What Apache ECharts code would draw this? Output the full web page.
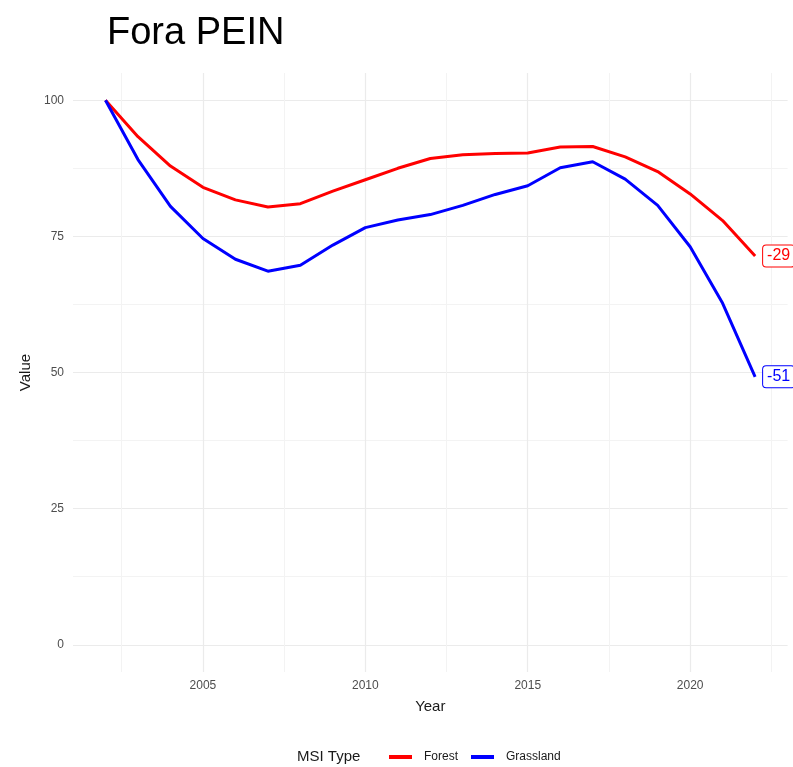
<!DOCTYPE html>
<html><head><meta charset="utf-8">
<script src="https://cdn.jsdelivr.net/npm/echarts@6/dist/echarts.min.js"></script>
<style>html,body{margin:0;padding:0;background:#fff}#c{width:793px;height:767px}</style>
</head><body><div id="c"></div>
<script>
const years = [2002,2003,2004,2005,2006,2007,2008,2009,2010,2011,2012,2013,2014,2015,2016,2017,2018,2019,2020,2021,2022];
const forest = [100,93.3,87.9,84.0,81.7,80.4,81.0,83.3,85.4,87.5,89.3,90.0,90.2,90.3,91.4,91.5,89.6,86.9,82.8,77.9,71.4];
const grassland = [100,89.1,80.5,74.6,70.8,68.6,69.7,73.4,76.6,78.0,79.0,80.7,82.7,84.3,87.6,88.7,85.5,80.7,73.1,62.7,49.2];
const forestLabel = '-29';
const grassLabel = '-51';
const xMajor = [2005,2010,2015,2020];
const xMinor = [2002.5,2007.5,2012.5,2017.5,2022.5];
const yMajor = [0,25,50,75,100];
const yMinor = [12.5,37.5,62.5,87.5];

const font = 'Liberation Sans, Arial, sans-serif';
const chart = echarts.init(document.getElementById('c'), null, {renderer:'canvas'});
const grid = {left:73, right:5.4, top:73, bottom:95};
const endLabel = (color, text) => ({
  show:true, formatter:text, distance:8, color:color, fontSize:16, fontFamily:font,
  backgroundColor:'#fff', borderColor:color, borderWidth:1, borderRadius:3, padding:[3,4,2,4]
});
chart.setOption({
  animation:false,
  title:[{text:'Fora PEIN', left:102, top:10, textStyle:{fontFamily:font, fontSize:38, fontWeight:'normal', color:'#000'}}],
  graphic:[{type:'text', left:297, top:749, style:{text:'MSI Type', font:'15px ' + font, fill:'#1a1a1a'}}],
  legend:{left:384, top:746, itemWidth:23, itemHeight:4, itemGap:13, icon:'rect',
    textStyle:{fontFamily:font, fontSize:12, color:'#1a1a1a', padding:[0,0,0,7]},
    data:['Forest','Grassland']},
  grid:grid,
  xAxis:[{type:'value', min:2001, max:2023, name:'Year', nameLocation:'middle', nameGap:27,
    nameTextStyle:{fontFamily:font, fontSize:15, color:'#1a1a1a'},
    axisLine:{show:false}, axisTick:{show:false, customValues:xMajor},
    axisLabel:{customValues:xMajor, color:'#4d4d4d', fontFamily:font, fontSize:12, margin:8, formatter:v=>String(v)},
    splitLine:{show:true, lineStyle:{color:'#ebebeb', width:1.2}}},
   {type:'value', min:2001, max:2023, show:true, position:'bottom',
    axisLine:{show:false}, axisTick:{show:false, customValues:xMinor},
    axisLabel:{show:false, customValues:xMinor},
    splitLine:{show:true, lineStyle:{color:'#f3f3f3', width:1}}}],
  yAxis:[{type:'value', min:-5, max:105, name:'Value', nameLocation:'middle', nameGap:38,
    nameTextStyle:{fontFamily:font, fontSize:15, color:'#1a1a1a'},
    axisLine:{show:false}, axisTick:{show:false, customValues:yMajor},
    axisLabel:{customValues:yMajor, color:'#4d4d4d', fontFamily:font, fontSize:12, margin:9},
    splitLine:{show:true, lineStyle:{color:'#ebebeb', width:1.2}}},
   {type:'value', min:-5, max:105, position:'left',
    axisLine:{show:false}, axisTick:{show:false, customValues:yMinor},
    axisLabel:{show:false, customValues:yMinor},
    splitLine:{show:true, lineStyle:{color:'#f3f3f3', width:1}}}],
  series:[
    {name:'Forest', type:'line', data:years.map((y,i)=>[y,forest[i]]), showSymbol:false, symbol:'none',
     color:'#ff0000', lineStyle:{width:3, color:'#ff0000'}, clip:false, endLabel:endLabel('#ff0000', forestLabel)},
    {name:'Grassland', type:'line', data:years.map((y,i)=>[y,grassland[i]]), showSymbol:false, symbol:'none',
     color:'#0000ff', lineStyle:{width:3, color:'#0000ff'}, clip:false, endLabel:endLabel('#0000ff', grassLabel)}
  ]
});
</script></body></html>
